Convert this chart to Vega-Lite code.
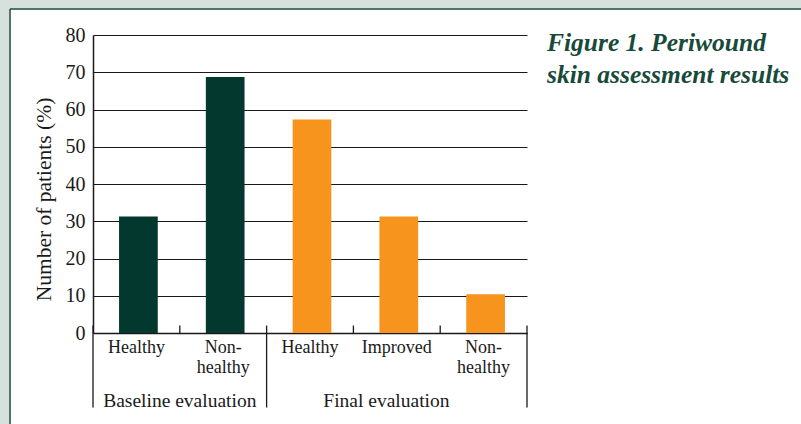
{
  "$schema": "https://vega.github.io/schema/vega-lite/v6.json",
  "width": 434,
  "height": 298,
  "autosize": "none",
  "padding": {"left": 93, "top": 35, "right": 274, "bottom": 91},
  "background": "#ffffff",
  "config": {
    "view": {"stroke": null},
    "font": "Liberation Serif",
    "axis": {"labelColor": "#1a1a1a", "titleColor": "#1a1a1a", "labelOverlap": false}
  },
  "resolve": {"axis": {"x": "independent", "y": "independent"}},
  "data": {
    "values": [
      {"key": "B-H", "group": "Baseline evaluation", "category": "Healthy", "pct": 31.3},
      {"key": "B-N", "group": "Baseline evaluation", "category": "Non-healthy", "pct": 68.7},
      {"key": "F-H", "group": "Final evaluation", "category": "Healthy", "pct": 57.3},
      {"key": "F-I", "group": "Final evaluation", "category": "Improved", "pct": 31.3},
      {"key": "F-N", "group": "Final evaluation", "category": "Non-healthy", "pct": 10.4}
    ]
  },
  "layer": [
    {
      "mark": {"type": "bar", "width": {"band": 0.446}, "xOffset": 2},
      "encoding": {
        "x": {
          "field": "key",
          "type": "nominal",
          "scale": {"domain": ["B-H", "B-N", "F-H", "F-I", "F-N"], "paddingInner": 0, "paddingOuter": 0},
          "axis": {
            "title": null,
            "ticks": false,
            "tickSize": 0,
            "grid": false,
            "domain": true,
            "domainColor": "#1a1a1a",
            "domainWidth": 1.5,
            "labelAngle": 0,
            "labelAlign": "center",
            "labelFontSize": 18,
            "labelPadding": 5,
            "labelLineHeight": 20,
            "labelBaseline": "top",
            "labelColor": "#1a1a1a",
            "labelExpr": "datum.value == 'B-H' || datum.value == 'F-H' ? 'Healthy' : datum.value == 'F-I' ? 'Improved' : ['Non-', 'healthy']"
          }
        },
        "y": {
          "field": "pct",
          "type": "quantitative",
          "scale": {"domain": [0, 80], "nice": false},
          "axis": {
            "values": [0, 10, 20, 30, 40, 50, 60, 70, 80],
            "grid": true,
            "gridColor": "#1a1a1a",
            "gridWidth": 1,
            "ticks": false,
            "tickSize": 0,
            "domain": true,
            "domainColor": "#1a1a1a",
            "domainWidth": 1.5,
            "labelFontSize": 20,
            "labelPadding": 8,
            "labelColor": "#1a1a1a",
            "title": "Number of patients (%)",
            "titleFontSize": 21.5,
            "titleFontWeight": "normal",
            "titleColor": "#1a1a1a",
            "titlePadding": 10,
            "titleY": 164
          }
        },
        "color": {
          "field": "group",
          "type": "nominal",
          "scale": {"domain": ["Baseline evaluation", "Final evaluation"], "range": ["#02382e", "#f7941e"]},
          "legend": null
        }
      }
    },
    {
      "data": {"values": [{}]},
      "mark": {"type": "rect", "fill": "#d6e1dd"},
      "encoding": {
        "x": {"datum": "B-H", "type": "nominal", "bandPosition": -3, "axis": null},
        "x2": {"datum": "F-N", "bandPosition": 5},
        "y": {"datum": 89.6, "type": "quantitative", "axis": null},
        "y2": {"datum": 87}
      }
    },
    {
      "data": {"values": [{}]},
      "mark": {"type": "rect", "fill": "#d6e1dd"},
      "encoding": {
        "x": {"datum": "B-H", "type": "nominal", "bandPosition": -3, "axis": null},
        "x2": {"datum": "B-H", "bandPosition": -0.956},
        "y": {"datum": 89.6, "type": "quantitative", "axis": null},
        "y2": {"datum": -40}
      }
    },
    {
      "data": {"values": [{}]},
      "mark": {"type": "rule", "color": "#1f4d3d", "strokeWidth": 1.5},
      "encoding": {
        "x": {"datum": "B-H", "type": "nominal", "bandPosition": -0.956, "axis": null},
        "x2": {"datum": "F-N", "bandPosition": 5},
        "y": {"datum": 87, "type": "quantitative", "axis": null}
      }
    },
    {
      "data": {"values": [{}]},
      "mark": {"type": "rule", "color": "#1f4d3d", "strokeWidth": 1.5},
      "encoding": {
        "x": {"datum": "B-H", "type": "nominal", "bandPosition": -0.956, "axis": null},
        "y": {"datum": 87, "type": "quantitative", "axis": null},
        "y2": {"datum": -40}
      }
    },
    {
      "data": {"values": [{"key": "B-N"}, {"key": "F-I"}, {"key": "F-N"}]},
      "mark": {"type": "rule", "color": "#1a1a1a", "strokeWidth": 1.3},
      "encoding": {
        "x": {"field": "key", "type": "nominal", "bandPosition": 0, "axis": null},
        "y": {"datum": 2, "type": "quantitative", "axis": null},
        "y2": {"datum": 0}
      }
    },
    {
      "data": {"values": [{"key": "B-H"}, {"key": "F-H"}]},
      "mark": {"type": "rule", "color": "#1a1a1a", "strokeWidth": 1.3},
      "encoding": {
        "x": {"field": "key", "type": "nominal", "bandPosition": 0, "axis": null},
        "y": {"datum": 2, "type": "quantitative", "axis": null},
        "y2": {"datum": -20}
      }
    },
    {
      "data": {"values": [{"key": "F-N"}]},
      "mark": {"type": "rule", "color": "#1a1a1a", "strokeWidth": 1.3},
      "encoding": {
        "x": {"field": "key", "type": "nominal", "bandPosition": 1, "axis": null},
        "y": {"datum": 2, "type": "quantitative", "axis": null},
        "y2": {"datum": -20}
      }
    },
    {
      "data": {"values": [{"key": "B-N", "group": "Baseline evaluation"}]},
      "mark": {"type": "text", "fontSize": 19.5, "baseline": "alphabetic", "align": "center", "color": "#1a1a1a"},
      "encoding": {
        "x": {"field": "key", "type": "nominal", "bandPosition": 0, "axis": null},
        "y": {"datum": -19.9, "type": "quantitative", "axis": null},
        "text": {"field": "group"}
      }
    },
    {
      "data": {"values": [{"key": "F-I", "group": "Final evaluation"}]},
      "mark": {"type": "text", "fontSize": 19.5, "baseline": "alphabetic", "align": "center", "color": "#1a1a1a"},
      "encoding": {
        "x": {"field": "key", "type": "nominal", "bandPosition": 0.38, "axis": null},
        "y": {"datum": -19.9, "type": "quantitative", "axis": null},
        "text": {"field": "group"}
      }
    },
    {
      "data": {"values": [{"key": "F-N", "caption": "Figure 1. Periwound\nskin assessment results"}]},
      "mark": {"type": "text", "fontSize": 25.5, "fontStyle": "italic", "fontWeight": "bold", "baseline": "alphabetic", "align": "left", "lineBreak": "\n", "lineHeight": 32, "color": "#174a3a"},
      "encoding": {
        "x": {"field": "key", "type": "nominal", "bandPosition": 1.23, "axis": null},
        "y": {"datum": 75.7, "type": "quantitative", "axis": null},
        "text": {"field": "caption"}
      }
    }
  ]
}
